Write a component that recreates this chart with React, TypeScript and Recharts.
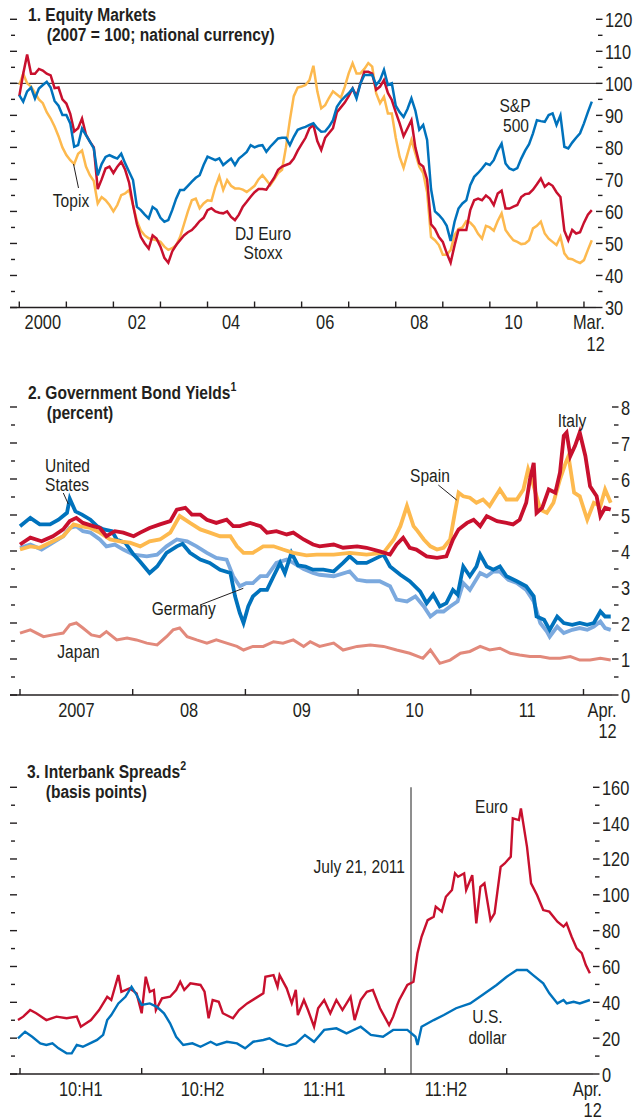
import React from 'react';
import { LineChart, Line, XAxis, YAxis, ReferenceLine } from 'recharts';

const FONT = "'Liberation Sans', Arial, sans-serif";
const NARROW = 0.82; // squeeze Liberation Sans into an Arial-Narrow-like face
const INK = '#231f20';
const RED = '#c8102e';
const BLUE = '#0072bc';
const GOLD = '#fdb94e';
const LIGHT_BLUE = '#7ba9de';
const SALMON = '#e2897b';

// ---- Panel 1: equity indices, monthly Jan 2000 .. Mar 2012 (2007 = 100)
const topix = [
  99.5, 103, 100, 99, 97, 95, 93.8, 91, 89, 86.5, 83.5, 80,
  77.6, 76, 74.8, 78, 79, 74, 71.3, 69.5, 62.5, 64.5, 63.5, 62,
  60, 62, 65.1, 65.6, 66.7, 62, 57, 54, 52.5, 51.6, 51.3, 51,
  50.5, 49, 48, 48.5, 49.4, 52, 56, 60, 63.5, 64, 61, 62.5,
  63.5, 63.3, 67.7, 71, 66.7, 69.8, 68, 67.2, 67.2, 66.8, 66.1, 67,
  68, 70, 71.3, 69.8, 68.2, 70, 72, 73, 80, 88.5, 96, 98.7,
  99, 99.5, 101, 105.5, 97.5, 92.2, 93.2, 95.5, 97.5, 96.5, 95.5, 98.9,
  103.1, 106.3, 103.1, 103.1, 104.5, 106.3, 105.2, 96.9, 93.8, 95.8, 90.6, 90.6,
  83, 77, 73.6, 78, 82.3, 78.1, 74, 72, 66, 52, 51, 49.5,
  46.5, 46.5, 47.9, 52.6, 54.5, 55, 57, 56.5, 55.2, 53, 51.5, 55.5,
  55, 54, 57, 59.4, 54.2, 52.5, 51, 50.5, 49.8, 50, 51, 54.7,
  55.5, 56.8, 53.1, 51.5, 50.5, 49.5, 52.1, 46.9, 45.3, 45.1, 44.4, 43.9,
  44.8, 48, 51,
];
const euroStoxx = [
  96, 103, 109, 103, 103, 104.5, 104, 103, 102.5, 98.5, 98.7, 95,
  93.7, 90.5, 85, 86, 89, 84, 81.8, 80, 67, 70, 73.4, 74,
  72, 74, 75.5, 73, 69, 62, 56, 52, 50, 48.4, 52.5, 51.5,
  49, 45.5, 44, 47.5, 49.5, 51, 52.5, 53.5, 54.2, 55.5, 57, 58,
  60.4, 61, 60, 59.6, 59.4, 60, 58.3, 57.3, 59, 61.5, 63, 64.6,
  66, 67, 67, 66.8, 68.7, 70.5, 73, 74, 74.5, 75, 76.5, 79,
  81, 83, 86, 87, 82, 79.2, 83, 84.5, 86, 91, 92.5, 94,
  96, 98.4, 96, 100, 103.6, 103.6, 103, 98, 99, 101, 97, 94.8,
  91, 87.5, 83.5, 86, 88.5, 80, 75, 74, 70, 56, 54.5, 52,
  50.5, 47, 44, 49.4, 54.2, 54.2, 54.2, 60.4, 63.5, 64, 63.5, 65,
  64, 62, 65.6, 66.5, 60.9, 60.9, 61.5, 62, 64.5, 65.4, 65.6, 66.8,
  68.5, 70.3, 67.7, 68.8, 68, 66, 64.5, 54, 51, 54.2, 53.1, 53.5,
  56.5, 59, 60.4,
];
const sp500 = [
  96.3, 94.3, 97.5, 98.7, 95.3, 98.4, 99.5, 100.5, 98.7, 94.5, 93, 90.1,
  90.1, 87.5, 80.2, 80.7, 85.9, 83.8, 81.8, 79.7, 71.3, 74.8, 77, 77.6,
  77, 76.5, 78, 75, 72.4, 69.8, 61.4, 60.4, 59, 57.8, 61.4, 60.5,
  58, 56.8, 57.3, 60.4, 64, 66.7, 66.7, 68, 69.3, 70.5, 71.3, 74.5,
  77.1, 76.6, 76, 76.6, 74.5, 75.5, 76.5, 74.5, 76.5, 77.5, 78.6, 80.7,
  80, 80.5, 80.7, 78.6, 80.2, 81.5, 82.8, 83, 83, 80.7, 83.3, 85.5,
  86, 86.4, 87, 87.5, 86, 84.9, 85, 86.5, 88.5, 92.7, 94.5, 95.8,
  96.9, 98.4, 95.3, 100, 102.6, 102.6, 102.6, 99.5, 101, 104.2, 99.5, 100,
  93, 91, 89.5, 92, 95.3, 91.5, 85.5, 87, 82.3, 67, 60, 58.9,
  57.5, 55.5, 50.8, 56.8, 60.9, 62.5, 63.5, 68.2, 70.8, 72, 73.4, 75,
  74.5, 76, 79, 81.2, 75, 73.4, 72.9, 73.5, 76.5, 79, 81, 84.4,
  88.5, 88.2, 88, 90.1, 90.6, 87, 90, 80.2, 79.7, 81.5, 83, 84.4,
  87.5, 91, 94.3,
];
const equityYearTicks = [0, 12, 24, 36, 48, 60, 72, 84, 96, 108, 120, 132, 144];
const equityLabels: Record<number, string[]> = {
  6: ['2000'], 30: ['02'], 54: ['04'], 78: ['06'], 102: ['08'], 126: ['10'], 146: ['Mar.', '12'],
};
const equityYTicks = [30, 35, 40, 45, 50, 55, 60, 65, 70, 75, 80, 85, 90, 95, 100, 105, 110, 115, 120];

// ---- Panel 2: 10-year government bond yields, [months since Jan 2007, percent]
const usYield = [
  [0, 4.69], [1.1, 4.92], [2.1, 4.74], [3.2, 4.74], [4.1, 4.87], [5, 5.06], [5.3, 5.45], [5.9, 5.1],
  [6.6, 5.01], [7.5, 4.87], [8.2, 4.69], [8.9, 4.6], [9.8, 4.55], [10.3, 4.32], [11.2, 4.23], [12.1, 3.9],
  [12.8, 3.7], [13.8, 3.39], [14.6, 3.57], [15.6, 3.95], [16.7, 4.13], [17.3, 4.2], [18.1, 3.95], [19.2, 3.76],
  [20.2, 3.67], [21.3, 3.48], [22.4, 3.39], [22.9, 2.74], [23.4, 2.28], [23.8, 2.0], [24.3, 2.46], [24.8, 2.74],
  [25.6, 2.92], [26.3, 2.92], [27, 3.3], [27.7, 3.67], [28.2, 3.39], [28.9, 3.95], [29.6, 3.6], [30.4, 3.57],
  [31.2, 3.48], [32.3, 3.48], [33.4, 3.43], [34.4, 3.67], [35.1, 3.85], [35.9, 3.67], [36.9, 3.67], [38, 3.81],
  [38.7, 3.9], [39.4, 3.57], [40.5, 3.34], [41.5, 3.16], [42.6, 2.88], [43.3, 2.55], [44, 2.79], [44.7, 2.46],
  [45.4, 2.55], [46.1, 2.92], [46.6, 2.79], [47.2, 3.57], [47.9, 3.3], [48.6, 3.57], [49, 3.9], [49.7, 3.57],
  [50.4, 3.48], [51.1, 3.57], [51.8, 3.3], [52.9, 3.16], [53.9, 3.02], [54.7, 2.74], [55, 2.18], [55.8, 2.09],
  [56.4, 1.81], [57.2, 2.18], [57.9, 2.0], [58.8, 1.95], [59.6, 2.0], [60.4, 1.95], [61.1, 2.0], [61.8, 2.32],
  [62.3, 2.18], [62.9, 2.18],
];
const germanyYield = [
  [0, 4.09], [1.1, 4.18], [2.3, 4.04], [3.5, 4.23], [4.6, 4.41], [5.3, 4.64], [6, 4.69], [6.7, 4.55],
  [7.5, 4.51], [8.5, 4.32], [9.2, 4.13], [10.1, 4.18], [11, 4.04], [12.1, 3.9], [13.5, 3.85], [14.6, 3.9],
  [15.6, 4.13], [16.7, 4.32], [17.8, 4.27], [18.8, 4.13], [19.9, 3.95], [20.9, 3.81], [22, 3.76], [22.7, 3.3],
  [23.4, 3.02], [24.1, 3.11], [24.8, 3.11], [25.6, 3.3], [26.3, 3.3], [27.3, 3.67], [28.4, 3.76], [29.1, 3.67],
  [30.2, 3.5], [31.2, 3.39], [31.9, 3.34], [33.4, 3.3], [35.1, 3.43], [35.9, 3.2], [36.9, 3.16], [38.3, 3.16],
  [39.4, 3.02], [40.1, 2.65], [41.2, 2.6], [42.1, 2.74], [43, 2.46], [43.7, 2.18], [44.4, 2.32], [45.1, 2.32],
  [45.8, 2.46], [46.6, 2.6], [47.2, 3.11], [47.9, 2.92], [49, 3.39], [49.7, 3.3], [50.4, 3.43], [51.1, 3.43],
  [52, 3.2], [52.9, 3.11], [53.9, 2.92], [54.7, 2.6], [55.4, 2.0], [56.1, 1.76], [56.4, 1.62], [57.2, 1.9],
  [57.9, 1.72], [58.8, 1.81], [59.6, 1.86], [60.4, 1.81], [61.1, 1.9], [61.8, 2.04], [62.3, 1.86], [62.9, 1.81],
];
const italyYield = [
  [0, 4.18], [1.1, 4.37], [2.3, 4.27], [3.5, 4.41], [4.6, 4.6], [5.3, 4.83], [6, 4.92], [6.7, 4.78],
  [7.8, 4.69], [8.5, 4.64], [9.2, 4.41], [10.1, 4.55], [11, 4.51], [12.1, 4.41], [12.8, 4.51], [13.8, 4.64],
  [14.9, 4.74], [16, 4.83], [16.7, 5.15], [17.6, 5.2], [18.3, 5.01], [19.2, 5.01], [19.9, 4.87], [20.9, 4.78],
  [22, 4.87], [22.7, 4.69], [23.4, 4.69], [24.5, 4.78], [25.6, 4.69], [26.3, 4.51], [27.3, 4.55], [28.4, 4.46],
  [29.1, 4.51], [30.2, 4.32], [31.2, 4.18], [31.9, 4.13], [33.4, 4.18], [34.4, 4.09], [35.9, 4.13], [36.9, 4.09],
  [38.3, 3.99], [39.4, 3.9], [40.1, 4.18], [40.8, 4.37], [41.5, 4.09], [42.2, 4.04], [43.3, 3.85], [44.4, 3.81],
  [45.4, 3.85], [46.1, 4.32], [46.7, 4.6], [47.6, 4.78], [48.3, 4.87], [49, 4.69], [49.7, 4.97], [50.8, 4.83],
  [51.8, 4.78], [52.5, 4.74], [53.2, 4.87], [53.9, 5.34], [54.3, 5.99], [54.7, 6.45], [55, 5.06], [55.6, 5.2],
  [56.3, 5.71], [57, 5.62], [57.5, 6.18], [57.9, 7.2], [58.2, 7.29], [58.6, 6.64], [59.1, 6.92], [59.6, 7.29],
  [60.2, 6.64], [60.7, 5.8], [61.4, 5.52], [61.8, 4.97], [62.3, 5.2], [62.9, 5.15],
];
const spainYield = [
  [0, 4.04], [1.1, 4.13], [2.1, 4.09], [3.5, 4.27], [4.6, 4.41], [5.7, 4.74], [6.4, 4.69], [7.5, 4.64],
  [8.5, 4.51], [9.6, 4.32], [10.6, 4.27], [11.7, 4.23], [12.8, 4.13], [13.8, 4.27], [14.9, 4.32], [16, 4.51],
  [17, 4.97], [18.1, 4.78], [19.2, 4.6], [20.2, 4.51], [21.3, 4.41], [22.4, 4.41], [23.1, 4.13], [23.8, 3.95],
  [24.8, 3.95], [25.9, 4.13], [27, 4.13], [28, 4.04], [29.1, 3.95], [30.5, 3.88], [31.6, 3.9], [33.4, 3.9],
  [35.1, 3.95], [36.9, 3.9], [38.7, 3.95], [39.8, 4.32], [40.5, 4.69], [41.2, 5.25], [41.9, 4.69], [42.2, 4.6],
  [43, 4.32], [43.7, 4.13], [44.4, 4.04], [45.1, 4.09], [45.8, 4.32], [46.3, 5.06], [46.7, 5.62], [47.2, 5.52],
  [47.9, 5.48], [48.6, 5.34], [49.3, 5.43], [50, 5.25], [51.1, 5.71], [51.8, 5.43], [52.9, 5.43], [53.6, 5.71],
  [54.1, 6.27], [54.7, 5.8], [55.4, 5.15], [56.1, 5.06], [56.8, 5.34], [57.5, 5.99], [58.1, 6.45], [58.4, 6.64],
  [59, 5.62], [59.6, 5.52], [60.4, 4.87], [61.1, 5.34], [61.8, 5.25], [62.3, 5.71], [62.9, 5.34],
];
const japanYield = [
  [0, 1.72], [1.1, 1.81], [2.5, 1.62], [3.5, 1.67], [4.6, 1.72], [5.3, 1.95], [6, 2.0], [6.7, 1.86],
  [7.6, 1.67], [8.5, 1.62], [9.2, 1.76], [10.3, 1.53], [11.4, 1.58], [12.4, 1.53], [13.5, 1.44], [14.6, 1.39],
  [15.6, 1.62], [16.3, 1.81], [17, 1.86], [17.8, 1.62], [18.8, 1.53], [19.9, 1.44], [20.9, 1.53], [22, 1.44],
  [23.1, 1.35], [23.8, 1.25], [24.8, 1.35], [25.9, 1.35], [27, 1.48], [28, 1.44], [29.1, 1.53], [30.2, 1.35],
  [30.9, 1.48], [31.9, 1.35], [33.4, 1.44], [34.4, 1.25], [35.9, 1.35], [37.3, 1.39], [38.7, 1.35], [40.1, 1.25],
  [41.5, 1.16], [42.9, 1.02], [43.7, 1.25], [44.7, 0.88], [45.8, 0.97], [46.9, 1.16], [47.9, 1.21], [49, 1.35],
  [50, 1.25], [51.1, 1.3], [52.2, 1.16], [53.2, 1.11], [54.3, 1.07], [55.4, 1.07], [56.4, 1.02], [57.5, 1.02],
  [58.6, 1.07], [59.6, 0.97], [60.7, 0.97], [61.8, 1.02], [62.9, 0.97],
];
const bondYearTicks = [0, 12, 24, 36, 48, 60];
const bondLabels: Record<number, string[]> = {
  6: ['2007'], 18: ['08'], 30: ['09'], 42: ['10'], 54: ['11'], 63: ['Apr.', '12'],
};
const bondYTicks = [0, 0.5, 1, 1.5, 2, 2.5, 3, 3.5, 4, 4.5, 5, 5.5, 6, 6.5, 7, 7.5, 8];

// ---- Panel 3: interbank spreads, [months since Jan 2010, basis points]
const euroSpread = [
  [-0.1, 30.1], [0.16, 32], [0.5, 35.7], [0.8, 33.9], [1.3, 30.1], [1.8, 32], [2.3, 31.1], [2.8, 32],
  [3.0, 26.4], [3.5, 30.1], [3.9, 35.7], [4.3, 43.1], [4.5, 41.3], [4.85, 55.2], [5.0, 45.9], [5.4, 47.8],
  [5.75, 45], [6.0, 33.9], [6.2, 54.3], [6.4, 45.9], [6.6, 46.9], [6.7, 35.7], [7.0, 42.2], [7.4, 43.1],
  [7.7, 46.9], [7.9, 51.5], [8.1, 46.9], [8.4, 50.6], [8.9, 49.7], [9.1, 45.9], [9.3, 31.1], [9.5, 41.3],
  [9.8, 40.3], [10.0, 33.9], [10.5, 31.1], [10.8, 35.7], [11.2, 39.4], [11.6, 42.2], [12.0, 45], [12.1, 54.3],
  [12.5, 55.2], [12.7, 48.7], [12.8, 55.2], [13.15, 47.8], [13.4, 39.4], [13.6, 46.9], [13.7, 32.9], [14.0, 41.3],
  [14.2, 35.7], [14.5, 26.4], [14.7, 36.7], [15.0, 41.3], [15.3, 33.9], [15.6, 41.3], [15.9, 35.7], [16.3, 43.1],
  [16.5, 30.1], [16.8, 41.3], [17.1, 45.9], [17.4, 46.9], [17.75, 36.7], [18.2, 27.3], [18.4, 32], [18.6, 38.5],
  [18.7, 41.3], [19.1, 49.7], [19.4, 51.5], [19.6, 67.4], [19.8, 76.6], [20.1, 85.9], [20.4, 87.8], [20.5, 93.4],
  [20.8, 90.6], [21.0, 98.9], [21.3, 102.7], [21.45, 112], [21.6, 110.1], [21.9, 112], [22.0, 102.7], [22.3, 111],
  [22.5, 84.1], [22.7, 104.5], [22.9, 106.4], [23.2, 85.9], [23.4, 89.6], [23.7, 115.6], [23.9, 117.5], [24.2, 121.3],
  [24.3, 142.7], [24.6, 141.7], [24.7, 148.2], [25.0, 126.8], [25.2, 106.4], [25.5, 99.8], [25.8, 91.5], [26.1, 90.6],
  [26.5, 85], [26.8, 82.2], [26.95, 84.1], [27.2, 76.6], [27.45, 70.1], [27.7, 67.4], [27.9, 60.8], [28.1, 56.2],
];
const dollarSpread = [
  [-0.1, 19.9], [0.25, 23.6], [0.6, 20.8], [1.0, 17.1], [1.3, 16.2], [1.6, 17.1], [1.9, 14.3], [2.3, 11.5],
  [2.55, 11.5], [2.8, 16.2], [3.1, 15.2], [3.45, 17.1], [3.8, 19], [4.1, 21.8], [4.3, 30.1], [4.5, 32.9],
  [4.85, 39.4], [5.2, 43.1], [5.5, 48.7], [5.75, 44.1], [6.0, 38.5], [6.4, 39.4], [6.75, 37.5], [7.1, 33.9],
  [7.4, 28.3], [7.7, 20.8], [8.05, 16.2], [8.5, 17.1], [8.9, 15.2], [9.4, 18], [9.7, 16.2], [10.2, 18],
  [10.7, 17.1], [11.1, 14.3], [11.5, 18], [12.0, 19], [12.3, 19.9], [12.7, 17.1], [13.15, 15.6], [13.6, 17.1],
  [14.05, 21.8], [14.5, 18], [15.0, 24.6], [15.6, 25.5], [16.1, 22.7], [16.8, 26.4], [17.3, 21.8], [17.9, 20.8],
  [18.4, 24.6], [19.1, 24.6], [19.5, 20.8], [19.6, 16.2], [19.8, 26.4], [20.4, 30.1], [20.9, 32.9], [21.5, 36.7],
  [22.2, 39.4], [22.8, 44.1], [23.5, 49.7], [24.0, 54.3], [24.5, 58], [25.0, 58], [25.3, 55.2], [25.8, 50.6],
  [26.1, 45], [26.5, 39.4], [26.8, 41.3], [26.95, 39.4], [27.3, 40.3], [27.6, 39.4], [28.1, 41.3],
];
const spreadHalfTicks = [0, 6, 12, 18, 24];
const spreadLabels: Record<number, string[]> = {
  3: ['10:H1'], 9: ['10:H2'], 15: ['11:H1'], 21: ['11:H2'], 28: ['Apr.', '12'],
};
const spreadYTicks = [0, 10, 20, 30, 40, 50, 60, 70, 80, 90, 100, 110, 120, 130, 140, 150, 160];
const july21 = 19.28;

const pts = (arr: number[][]) => arr.map(([m, v]) => ({ m, v }));
const tickList = (marks: number[], labels: Record<number, string[]>) =>
  [...marks, ...Object.keys(labels).map(Number)].sort((a, b) => a - b);

const equityRows = topix.map((v, i) => ({ m: i, topix: v, stoxx: euroStoxx[i], sp: sp500[i] }));

// condensed text: regular sans squeezed horizontally around its anchor point
const NText = ({ x, y, anchor = 'start', size = 19, weight = 'normal', children }: any) => (
  <g transform={`translate(${x},${y}) scale(${NARROW},1)`}>
    <text x={0} y={0} textAnchor={anchor} fontFamily={FONT} fontSize={size} fontWeight={weight} fill={INK}>
      {children}
    </text>
  </g>
);

// bottom axis: short inward marks at period boundaries, labels centred between them
const XTick = ({ x, y, payload, marks, labels, endShift }: any) => {
  const v = payload.value;
  if (marks.includes(v)) {
    return <line x1={x} x2={x} y1={y} y2={y - 6} stroke={INK} strokeWidth={1.4} />;
  }
  const lines: string[] | undefined = labels[v];
  if (!lines) return null;
  const isEnd = lines.length > 1;
  return (
    <g>
      {lines.map((t, i) => (
        <NText key={i} x={isEnd ? x + endShift : x} y={y + 21.5 + i * 21.5} anchor={isEnd ? 'end' : 'middle'} size={20}>
          {t}
        </NText>
      ))}
    </g>
  );
};

// right axis with labels, plus the matching unlabeled marks on the left edge
const YTick = ({ x, y, payload, step, left }: any) => {
  const v = payload.value;
  const major = Math.abs(v / step - Math.round(v / step)) < 1e-6;
  return (
    <g>
      <line x1={major ? x : x + 2} x2={x + 6.5} y1={y} y2={y} stroke={INK} strokeWidth={1.4} />
      <line x1={major ? left : left + 1} x2={left + (major ? 7 : 5)} y1={y} y2={y} stroke={INK} strokeWidth={1.4} />
      {major && <NText x={x + 9} y={y + 7.5} size={20}>{v}</NText>}
    </g>
  );
};

const axisLine = { stroke: INK, strokeWidth: 1.5 };

const EquityChart = () => (
  <LineChart width={637} height={360} data={equityRows} margin={{ top: 19.3, right: 0, bottom: 7.5, left: 10 }}>
    <XAxis dataKey="m" type="number" domain={[-2.37, 147.07]} ticks={tickList(equityYearTicks, equityLabels)}
      interval={0} height={45} axisLine={axisLine} tickLine={false} tickSize={0} tickMargin={0}
      tick={<XTick marks={equityYearTicks} labels={equityLabels} endShift={13} />} />
    <YAxis orientation="right" type="number" domain={[30, 120]} ticks={equityYTicks} interval={0} width={41}
      axisLine={false} tickLine={false} tickSize={0} tickMargin={0} tick={<YTick step={10} left={10} />} />
    <ReferenceLine y={100} stroke={INK} strokeWidth={1} />
    <Line dataKey="topix" stroke={GOLD} strokeWidth={2.5} dot={false} isAnimationActive={false} />
    <Line dataKey="stoxx" stroke={RED} strokeWidth={2.5} dot={false} isAnimationActive={false} />
    <Line dataKey="sp" stroke={BLUE} strokeWidth={2.5} dot={false} isAnimationActive={false} />
  </LineChart>
);

const BondChart = () => (
  <LineChart width={637} height={370} margin={{ top: 27, right: 0, bottom: 10, left: 10 }}>
    <XAxis dataKey="m" type="number" domain={[-1.065, 63.035]} ticks={tickList(bondYearTicks, bondLabels)}
      interval={0} height={45} axisLine={axisLine} tickLine={false} tickSize={0} tickMargin={0}
      tick={<XTick marks={bondYearTicks} labels={bondLabels} endShift={5} />} />
    <YAxis orientation="right" type="number" domain={[0, 8]} ticks={bondYTicks} interval={0} width={25}
      axisLine={false} tickLine={false} tickSize={0} tickMargin={0} tick={<YTick step={1} left={10} />} />
    <Line data={pts(japanYield)} dataKey="v" stroke={SALMON} strokeWidth={3} dot={false} isAnimationActive={false} />
    <Line data={pts(germanyYield)} dataKey="v" stroke={LIGHT_BLUE} strokeWidth={3.8} dot={false} isAnimationActive={false} />
    <Line data={pts(usYield)} dataKey="v" stroke={BLUE} strokeWidth={3.8} dot={false} isAnimationActive={false} />
    <Line data={pts(spainYield)} dataKey="v" stroke={GOLD} strokeWidth={3.8} dot={false} isAnimationActive={false} />
    <Line data={pts(italyYield)} dataKey="v" stroke={RED} strokeWidth={3.8} dot={false} isAnimationActive={false} />
  </LineChart>
);

const SpreadChart = () => (
  <LineChart width={637} height={370} margin={{ top: 37.3, right: 0, bottom: 1, left: 10 }}>
    <XAxis dataKey="m" type="number" domain={[-0.493, 28.254]} ticks={tickList(spreadHalfTicks, spreadLabels)}
      interval={0} height={45} axisLine={axisLine} tickLine={false} tickSize={0} tickMargin={0}
      tick={<XTick marks={spreadHalfTicks} labels={spreadLabels} endShift={14} />} />
    <YAxis orientation="right" type="number" domain={[0, 160]} ticks={spreadYTicks} interval={0} width={44}
      axisLine={false} tickLine={false} tickSize={0} tickMargin={0} tick={<YTick step={20} left={10} />} />
    <ReferenceLine x={july21} stroke="#444" strokeWidth={1.2} />
    <Line data={pts(euroSpread)} dataKey="v" stroke={RED} strokeWidth={2.4} dot={false} isAnimationActive={false} />
    <Line data={pts(dollarSpread)} dataKey="v" stroke={BLUE} strokeWidth={2.4} dot={false} isAnimationActive={false} />
  </LineChart>
);

const Title = ({ x, y, main, sup, sub }: any) => (
  <g>
    <NText x={x} y={y} size={19} weight="bold">
      {main}
      {sup && <tspan fontSize={13} dy={-8}>{sup}</tspan>}
    </NText>
    <NText x={x + 18.7} y={y + 20} size={19} weight="bold">{sub}</NText>
  </g>
);

const Notes = () => (
  <svg width={637} height={1120} style={{ position: 'absolute', left: 0, top: 0, pointerEvents: 'none' }}>
    <Title x={28} y={20.7} main="1. Equity Markets" sub="(2007 = 100; national currency)" />
    <Title x={28} y={398.5} main="2. Government Bond Yields" sup="1" sub="(percent)" />
    <Title x={27} y={778.3} main="3. Interbank Spreads" sup="2" sub="(basis points)" />
    <NText x={71} y={206.5} anchor="middle">Topix</NText>
    <NText x={263} y={240} anchor="middle">DJ Euro</NText>
    <NText x={263} y={259.3} anchor="middle">Stoxx</NText>
    <NText x={515} y={111.7} anchor="middle">S&amp;P</NText>
    <NText x={516} y={131.7} anchor="middle">500</NText>
    <NText x={45} y={471.7}>United</NText>
    <NText x={45} y={490.7}>States</NText>
    <NText x={410} y={481.7}>Spain</NText>
    <NText x={557.7} y={426.7}>Italy</NText>
    <NText x={151.7} y={615}>Germany</NText>
    <NText x={57.3} y={658.3}>Japan</NText>
    <NText x={405} y={873.3} anchor="end">July 21, 2011</NText>
    <NText x={475} y={813}>Euro</NText>
    <NText x={487.5} y={1023} anchor="middle">U.S.</NText>
    <NText x={487.5} y={1044} anchor="middle">dollar</NText>
    <g stroke={INK} strokeWidth={1}>
      <line x1={73.5} y1={164} x2={78.5} y2={188} />
      <line x1={63.3} y1={493} x2={68.3} y2={504} />
      <line x1={438.3} y1={485} x2={456.7} y2={500} />
      <line x1={200} y1={605} x2={243.3} y2={588.3} />
    </g>
  </svg>
);

export default function App() {
  return (
    <div style={{ position: 'absolute', left: 0, top: 0, width: 637, height: 1120, background: '#fff' }}>
      <div style={{ position: 'absolute', left: 0, top: 0 }}><EquityChart /></div>
      <div style={{ position: 'absolute', left: 0, top: 380 }}><BondChart /></div>
      <div style={{ position: 'absolute', left: 0, top: 750 }}><SpreadChart /></div>
      <Notes />
    </div>
  );
}
